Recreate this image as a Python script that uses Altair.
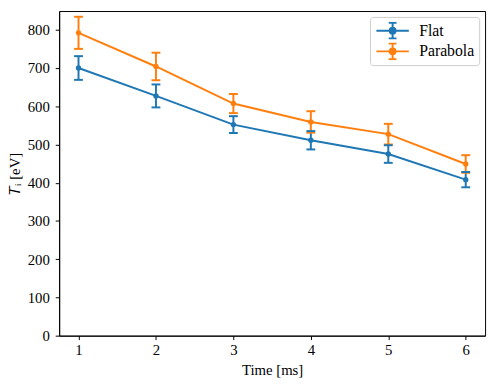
import altair as alt
import pandas as pd

times = [1, 2, 3, 4, 5, 6]
flat_vals = [700, 627, 552, 511, 475, 408]
flat_err = [31, 30, 22, 24, 23, 20]
para_vals = [792, 704, 607, 559, 527, 449]
para_err = [42, 36, 25, 28, 27, 23]
series_names = ["Flat", "Parabola"]
colors = ["#1f77b4", "#ff7f0e"]
y_ticks = [0, 100, 200, 300, 400, 500, 600, 700, 800]
x_ticks = [1, 2, 3, 4, 5, 6]

rows = []
for name, vals, errs in [("Flat", flat_vals, flat_err), ("Parabola", para_vals, para_err)]:
    for t, v, e in zip(times, vals, errs):
        rows.append({"time": t, "series": name, "value": v, "err": e})
df = pd.DataFrame(rows)

FONT = "Liberation Serif"

legend_path = (
    "M-1.83,0L1.83,0M0,-0.89L0,0.89M-0.44,-0.89L0.44,-0.89M-0.44,0.89L0.44,0.89"
    "M0.33,0A0.33,0.33 0 1,1 -0.33,0A0.33,0.33 0 1,1 0.33,0Z"
)

xs = alt.Scale(domain=[0.75, 6.25], nice=False, zero=False)
ys = alt.Scale(domain=[0, 849], nice=False)
cscale = alt.Scale(domain=series_names, range=colors)
color = alt.Color(
    "series:N",
    scale=cscale,
    legend=alt.Legend(
        title=None,
        orient="top-right",
        offset=6,
        symbolType=legend_path,
        symbolSize=324,
        symbolStrokeWidth=2,
        labelFont=FONT,
        labelFontSize=16,
        labelColor="black",
        fillColor="white",
        strokeColor="#cccccc",
        cornerRadius=3,
        padding=5,
        rowPadding=3,
        clipHeight=18,
        symbolOffset=8,
        labelOffset=17,
    ),
)

base = alt.Chart(df).encode(
    x=alt.X(
        "time:Q",
        scale=xs,
        axis=alt.Axis(
            title="Time [ms]", values=x_ticks, format="d", grid=False,
            labelFont=FONT, labelFontSize=15, titleFont=FONT, titleFontSize=15,
            titleFontWeight="normal", labelColor="black", titleColor="black",
            tickSize=4, tickColor="black", domainColor="black", labelPadding=3,
            titlePadding=5, labelFlush=False,
        ),
    ),
    y=alt.Y(
        "value:Q",
        scale=ys,
        axis=alt.Axis(
            title="𝑇ᵢ [eV]", values=y_ticks, format="d", grid=False,
            labelFont=FONT, labelFontSize=15, titleFont=FONT, titleFontSize=15,
            titleFontWeight="normal", labelColor="black", titleColor="black",
            tickSize=4, tickColor="black", domainColor="black", labelPadding=6,
            titlePadding=5, labelFlush=False,
        ),
    ),
    color=color,
)

line = base.mark_line(strokeWidth=2)
pts = base.mark_point(filled=True, size=30, opacity=1)

eb = alt.Chart(df).transform_calculate(
    lo="datum.value - datum.err", hi="datum.value + datum.err"
).encode(
    x=alt.X("time:Q", scale=xs),
    color=alt.Color("series:N", scale=cscale),
)
rule = eb.mark_rule(strokeWidth=2, opacity=1).encode(y=alt.Y("lo:Q", scale=ys), y2="hi:Q")
cap_lo = eb.mark_tick(thickness=2, size=9, orient="horizontal", opacity=1).encode(y=alt.Y("lo:Q", scale=ys))
cap_hi = eb.mark_tick(thickness=2, size=9, orient="horizontal", opacity=1).encode(y=alt.Y("hi:Q", scale=ys))

chart = alt.layer(line, pts, rule, cap_lo, cap_hi).properties(
    width=433, height=330,
    autosize=alt.AutoSizeParams(type="none"),
    padding={"left": 52, "top": 0, "right": 5, "bottom": 42},
).configure_view(stroke="black", strokeWidth=1)

chart.save("out.html", embed_options={"renderer": "svg", "actions": False})
